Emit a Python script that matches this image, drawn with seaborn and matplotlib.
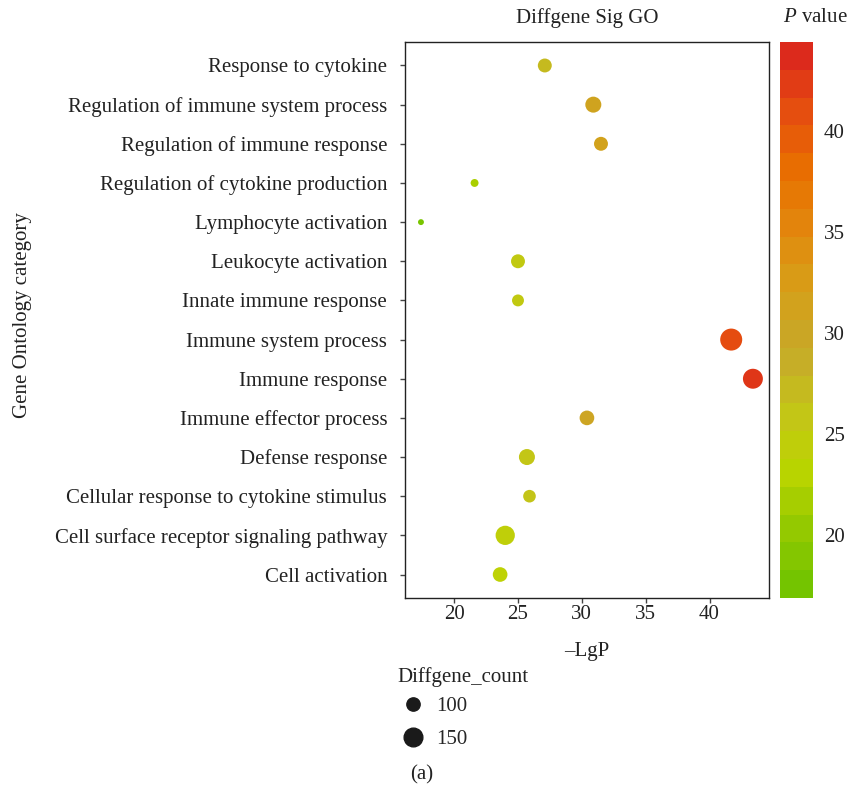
import matplotlib
import numpy as np
import pandas as pd
import seaborn as sns
from matplotlib import pyplot as plt
from matplotlib.colors import LinearSegmentedColormap, Normalize
from matplotlib.cm import ScalarMappable
from matplotlib.lines import Line2D

matplotlib.use("Agg")

# categories listed top -> bottom as shown in the chart
terms = [
    "Response to cytokine",
    "Regulation of immune system process",
    "Regulation of immune response",
    "Regulation of cytokine production",
    "Lymphocyte activation",
    "Leukocyte activation",
    "Innate immune response",
    "Immune system process",
    "Immune response",
    "Immune effector process",
    "Defense response",
    "Cellular response to cytokine stimulus",
    "Cell surface receptor signaling pathway",
    "Cell activation",
]
neg_log_p = [27.1, 30.9, 31.5, 21.6, 17.4, 25.0, 25.0, 41.7, 43.4, 30.4, 25.7, 25.9, 24.0, 23.6]
gene_count = [105, 123, 105, 67, 59, 105, 90, 189, 164, 111, 123, 95, 156, 111]
x_ticks = [20, 25, 30, 35, 40]
cbar_ticks = [20, 25, 30, 35, 40]
legend_counts = [100, 150]

gradient = ["#74c400", "#96c900", "#bcd500", "#c4c31a", "#c6a82a",
            "#d6a018", "#e2880e", "#e87000", "#e6500e", "#dc2a1c"]
cmap = LinearSegmentedColormap.from_list("go_p", gradient)
color_norm = Normalize(16.9, 44.4)

SIZE_NORM = (50, 200)
SIZE_RANGE = (2.0, 271.0)
FS = 15
TEXT = "#222222"


def area_for(count: float) -> float:
    lo, hi = SIZE_NORM
    return SIZE_RANGE[0] + (count - lo) / (hi - lo) * (SIZE_RANGE[1] - SIZE_RANGE[0])


df = pd.DataFrame({"term": terms, "lgp": neg_log_p, "count": gene_count})

sns.set_style("white")
plt.rcParams["font.family"] = ["Liberation Serif", "DejaVu Serif"]
plt.rcParams["mathtext.fontset"] = "custom"
plt.rcParams["mathtext.it"] = "Liberation Serif:italic"
plt.rcParams["mathtext.rm"] = "Liberation Serif"

fig = plt.figure(figsize=(8.55, 7.88), dpi=100)
ax = fig.add_axes([405 / 855, 1 - 598 / 788, 364 / 855, 556 / 788])
cax = fig.add_axes([780 / 855, 1 - 598 / 788, 33 / 855, 556 / 788])

sns.scatterplot(
    data=df, x="lgp", y="term", hue="lgp", size="count",
    palette=cmap, hue_norm=color_norm,
    sizes=SIZE_RANGE, size_norm=SIZE_NORM,
    linewidth=0, legend=False, ax=ax,
)
ax.set_ylim(len(terms) - 0.4, -0.6)
ax.set_xlim(16.15, 44.66)
ax.set_xticks(x_ticks)
ax.set_xlabel("–LgP", fontsize=FS, color=TEXT, labelpad=13)
ax.set_ylabel("")
ax.tick_params(axis="both", direction="out", length=3.8, width=1, color="#444444",
               labelsize=FS, labelcolor=TEXT, left=True, bottom=True)
ax.tick_params(axis="y", pad=9)
ax.tick_params(axis="x", pad=1.5)
for spine in ax.spines.values():
    spine.set_color(TEXT)
    spine.set_linewidth(1)

cb = fig.colorbar(ScalarMappable(norm=color_norm, cmap=cmap.resampled(20)), cax=cax)
cb.outline.set_visible(False)
cb.set_ticks(cbar_ticks)
cax.tick_params(axis="y", direction="in", length=4, width=1, color="white",
                left=True, right=True, labelsize=FS, labelcolor=TEXT, pad=8)

fig.text(587 / 855, 1 - 18 / 788, "Diffgene Sig GO", ha="center", va="center",
         fontsize=FS, color=TEXT)
fig.text(815 / 855, 1 - 18 / 788, "$P$ value", ha="center", va="center",
         fontsize=FS, color=TEXT)
fig.text(23 / 855, 1 - 315 / 788, "Gene Ontology category", rotation=90,
         ha="center", va="center", fontsize=FS, color=TEXT)
fig.text(422 / 855, 1 - 775 / 788, "(a)", ha="center", va="center",
         fontsize=FS, color=TEXT)
fig.text(397 / 855, 1 - 677 / 788, "Diffgene_count", ha="left", va="center",
         fontsize=FS, color=TEXT)

handles = [
    Line2D([], [], linestyle="none", marker="o", color="#1a1a1a",
           markersize=np.sqrt(area_for(c)), label=str(c))
    for c in legend_counts
]
fig.legend(handles=handles, loc="upper left",
           bbox_to_anchor=(392 / 855, 1 - 688 / 788), frameon=False,
           fontsize=FS, handletextpad=0.5, labelspacing=0.66,
           borderaxespad=0, handlelength=1.2)

fig.savefig("out.png", dpi=100)
